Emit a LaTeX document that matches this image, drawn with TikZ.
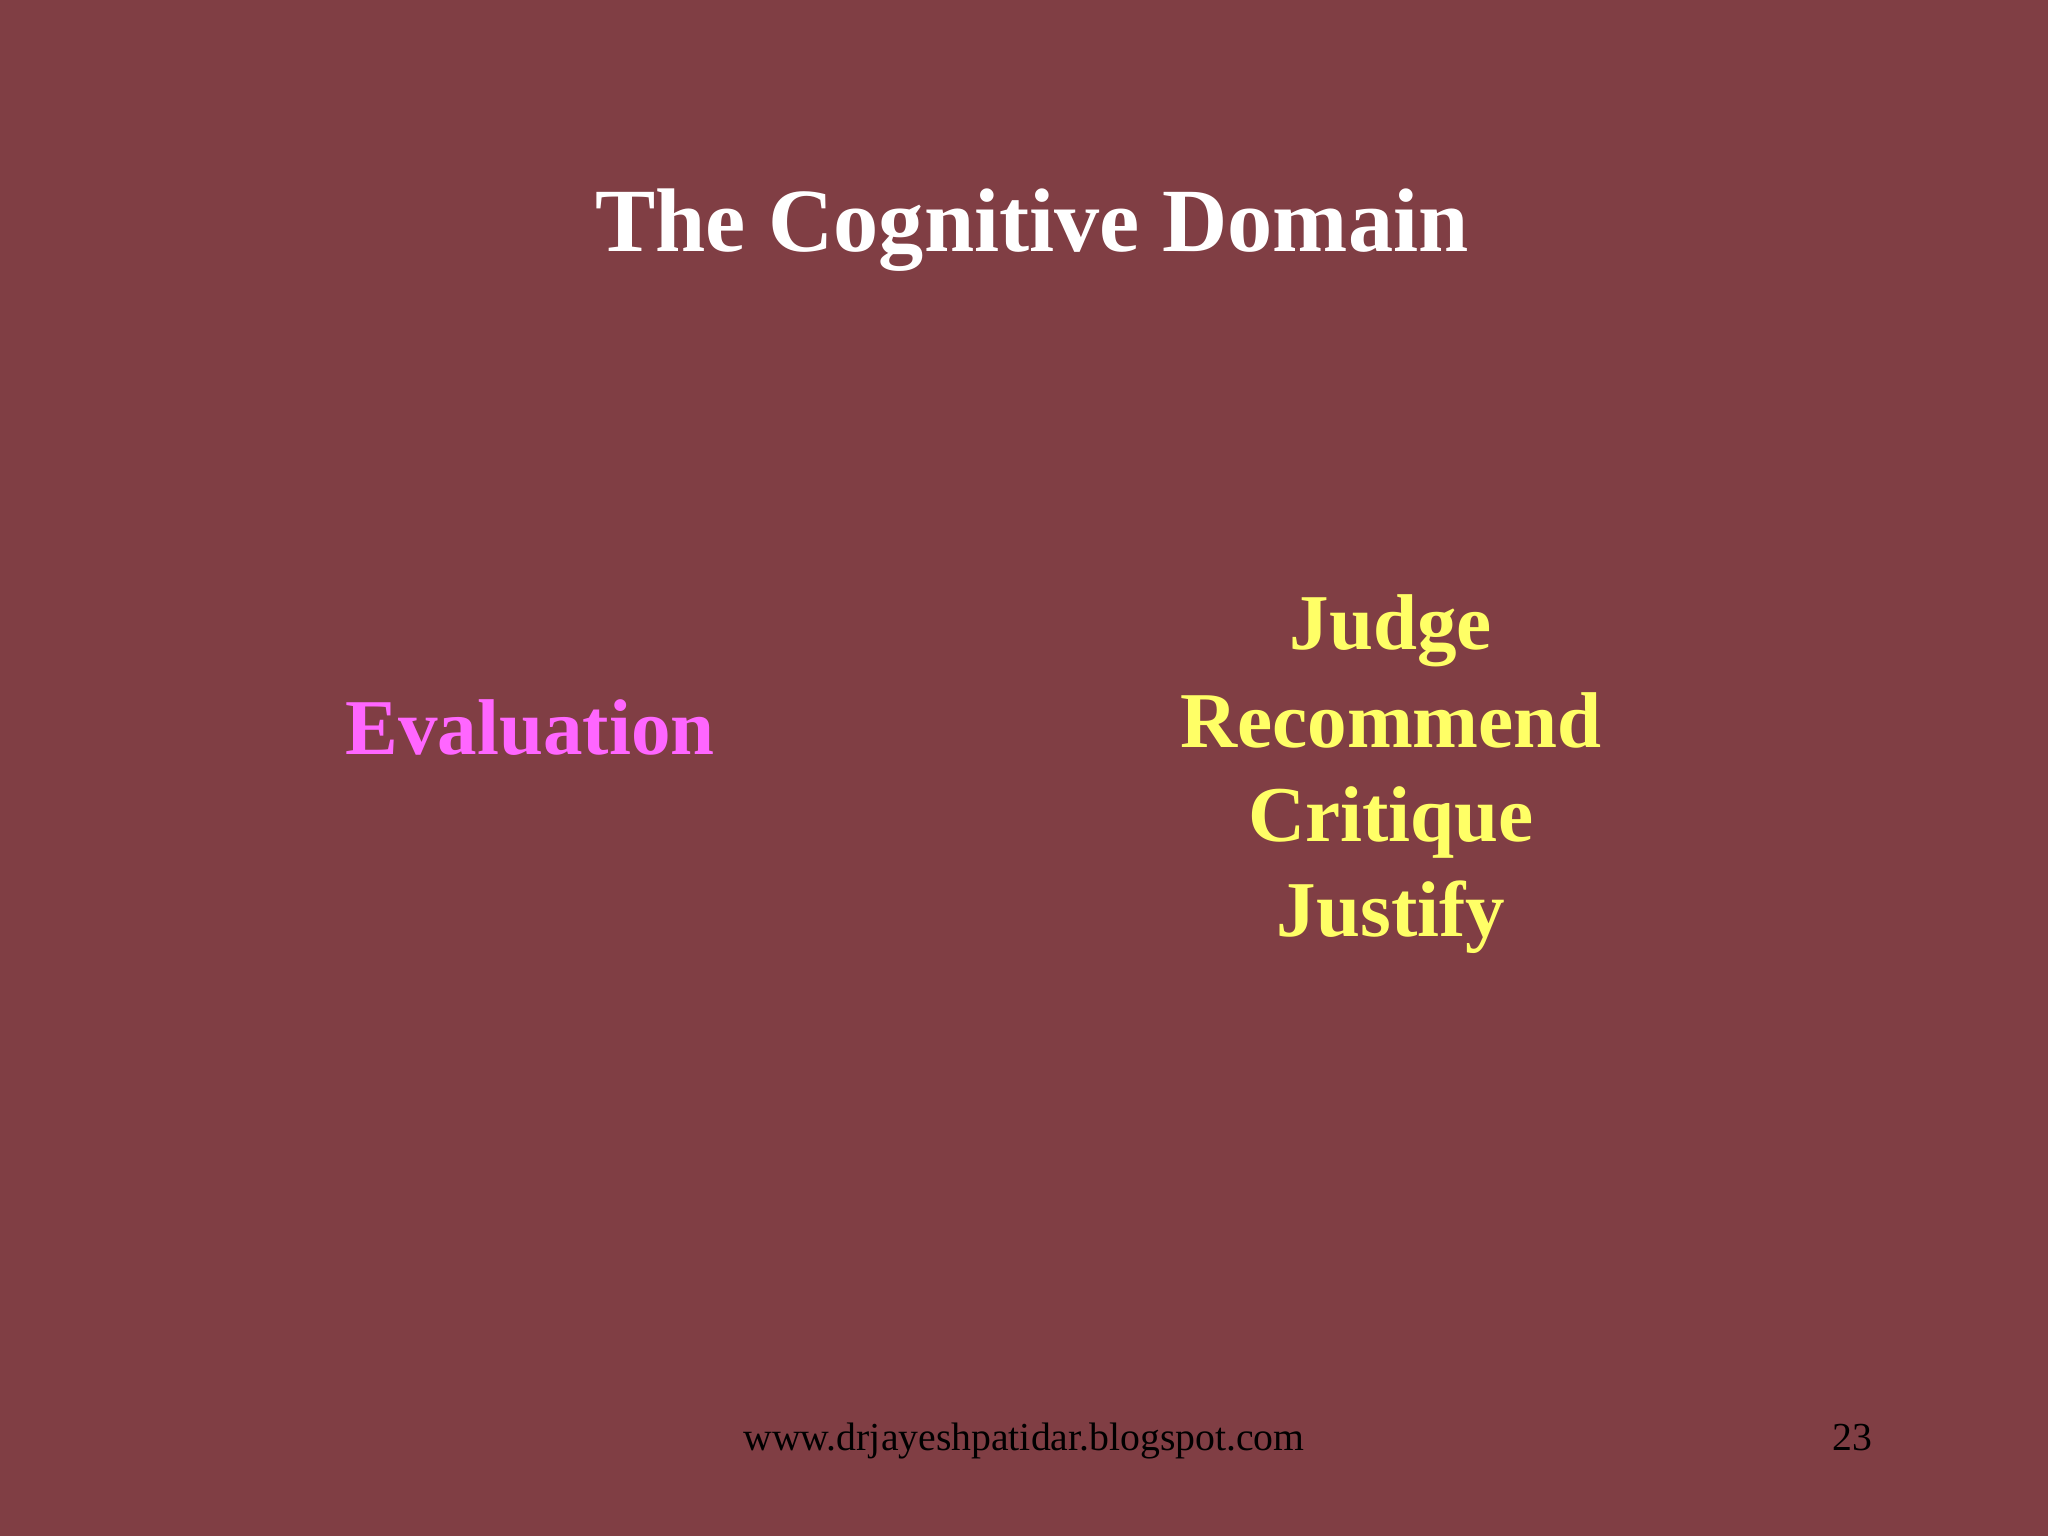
\documentclass[tikz,border=0pt]{standalone}
\usepackage{fontspec}
\setmainfont{Liberation Serif}
\definecolor{bg}{RGB}{128,62,68}
\definecolor{mag}{RGB}{255,102,255}
\definecolor{yel}{RGB}{255,255,102}
\begin{document}
\begin{tikzpicture}[x=1cm,y=1cm,
  big/.style={font=\fontsize{22.5}{26}\selectfont\bfseries,inner sep=0pt,anchor=base},
  foot/.style={font=\fontsize{11.3}{13}\selectfont,inner sep=0pt,text=black,anchor=base}]
\fill[bg] (0,0) rectangle (20.48,-15.36);
\useasboundingbox (0,0) rectangle (20.48,-15.36);
\node[font=\fontsize{25.7}{30}\selectfont\bfseries,text=white,inner sep=0pt,anchor=base] (title) at (10.32,-2.52) {The Cognitive Domain};
\node[big,text=mag] (eval) at (5.30,-7.54) {Evaluation};
\node[big,text=yel] (judge) at (13.91,-6.50) {Judge};
\node[big,text=yel] (rec) at (13.91,-7.47) {Recommend};
\node[big,text=yel] (crit) at (13.91,-8.42) {Critique};
\node[big,text=yel] (just) at (13.91,-9.36) {Justify};
\node[foot] (url) at (10.24,-14.50) {www.drjayeshpatidar.blogspot.com};
\node[foot] (num) at (18.52,-14.50) {23};
\end{tikzpicture}
\end{document}
